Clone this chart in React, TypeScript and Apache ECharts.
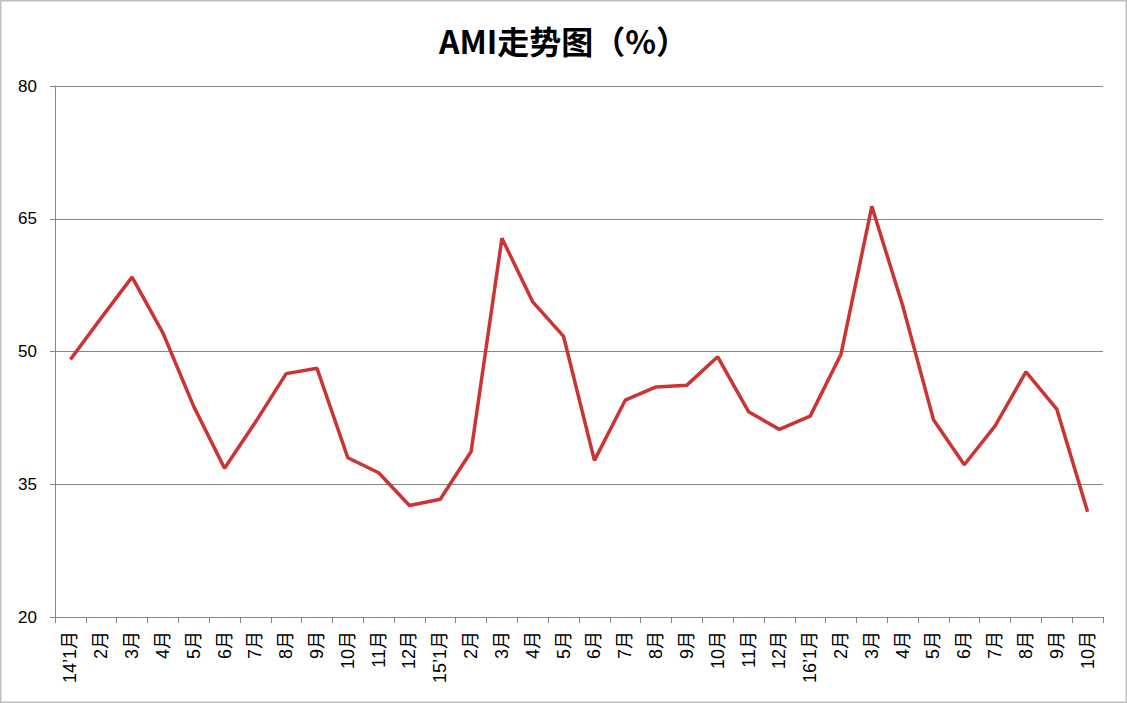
import React, { useEffect, useRef } from "react";
import * as echarts from "echarts";

const months = [
  "14’1月", "2月", "3月", "4月", "5月", "6月", "7月", "8月", "9月", "10月", "11月", "12月",
  "15’1月", "2月", "3月", "4月", "5月", "6月", "7月", "8月", "9月", "10月", "11月", "12月",
  "16’1月", "2月", "3月", "4月", "5月", "6月", "7月", "8月", "9月", "10月",
];

const amiValues = [
  49.1, 53.8, 58.4, 52.1, 43.8, 36.8, 42.0, 47.5, 48.1, 38.0, 36.3, 32.6,
  33.3, 38.7, 62.8, 55.6, 51.7, 37.7, 44.5, 46.0, 46.2, 49.4, 43.2, 41.2,
  42.7, 49.7, 66.4, 55.2, 42.3, 37.2, 41.6, 47.7, 43.5, 31.9,
];

const FONT = "'Liberation Sans', 'Noto Sans CJK SC', sans-serif";

const App: React.FC = () => {
  const chartRef = useRef<HTMLDivElement>(null);

  useEffect(() => {
    document.body.style.margin = "0";
    if (!chartRef.current) return;
    const chart = echarts.init(chartRef.current, undefined, { renderer: "svg" });

    chart.setOption({
      animation: false,
      backgroundColor: "#ffffff",
      title: {
        text: "AMI走势图（%）",
        left: "center",
        top: 19,
        textStyle: {
          fontFamily: "'Noto Sans CJK SC', sans-serif",
          fontSize: 32,
          fontWeight: "bold",
          color: "#000000",
        },
      },
      graphic: [
        {
          type: "rect",
          shape: { x: 0.5, y: 0.5, width: 1126, height: 702 },
          style: { fill: "none", stroke: "#bfbfbf", lineWidth: 2 },
          silent: true,
        },
      ],
      grid: { left: 55, right: 24, top: 86, bottom: 86 },
      xAxis: {
        type: "category",
        data: months,
        boundaryGap: true,
        axisLine: { lineStyle: { color: "#868686", width: 1 } },
        axisTick: { show: true, alignWithLabel: false, length: 6, lineStyle: { color: "#868686" } },
        axisLabel: {
          rotate: 90,
          interval: 0,
          margin: 14,
          fontFamily: FONT,
          fontSize: 18,
          color: "#000000",
        },
      },
      yAxis: {
        type: "value",
        min: 20,
        max: 80,
        interval: 15,
        axisLine: { show: true, lineStyle: { color: "#868686", width: 1 } },
        axisTick: { show: true, length: 5, lineStyle: { color: "#868686" } },
        axisLabel: {
          margin: 18,
          fontFamily: FONT,
          fontSize: 17,
          color: "#000000",
        },
        splitLine: { lineStyle: { color: "#868686", width: 1 } },
      },
      series: [
        {
          type: "line",
          data: amiValues,
          symbol: "none",
          lineStyle: { color: "#cc3333", width: 3.5 },
          itemStyle: { color: "#cc3333" },
        },
      ],
    });

    return () => {
      chart.dispose();
    };
  }, []);

  return <div ref={chartRef} style={{ width: 1127, height: 703 }} />;
};

export default App;
